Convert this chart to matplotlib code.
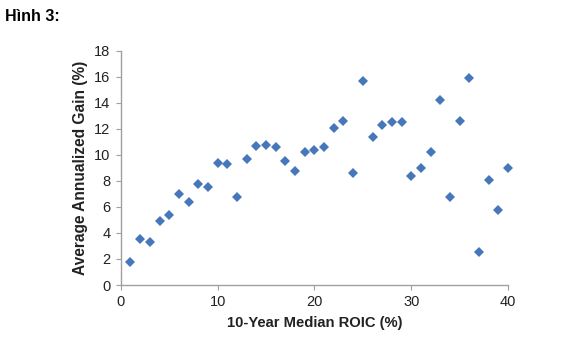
import matplotlib
matplotlib.use("Agg")
import matplotlib.pyplot as plt

plt.rcParams['font.family'] = ['Liberation Sans', 'DejaVu Sans']

roic = list(range(1, 41))
gain = [1.8, 3.5, 3.3, 4.9, 5.4, 7.0, 6.4, 7.8, 7.5, 9.4,
        9.3, 6.8, 9.7, 10.7, 10.8, 10.6, 9.5, 8.8, 10.2, 10.4,
        10.6, 12.1, 12.6, 8.6, 15.7, 11.4, 12.3, 12.5, 12.5, 8.4,
        9.0, 10.2, 14.2, 6.8, 12.6, 15.9, 2.5, 8.1, 5.8, 9.0]
xticks = [0, 10, 20, 30, 40]
yticks = list(range(0, 19, 2))

fig = plt.figure(figsize=(5.78, 3.51), dpi=100)
ax = fig.add_axes([0.209, 0.188, 0.670, 0.667])
ax.plot(roic, gain, linestyle='none', marker='D', ms=5.3,
        color='#4677BB', markeredgewidth=0, clip_on=False)
ax.set_xlim(0, 40)
ax.set_ylim(0, 18)
ax.set_xticks(xticks)
ax.set_yticks(yticks)
for s in ['top', 'right']:
    ax.spines[s].set_visible(False)
for s in ['left', 'bottom']:
    ax.spines[s].set_color('#a0a0a0')
    ax.spines[s].set_linewidth(1.0)
ax.tick_params(direction='out', length=3.5, color='#a0a0a0', labelsize=10.5,
               labelcolor='#222222', pad=4)
ax.set_xlabel('10-Year Median ROIC (%)', fontsize=10.6, fontweight='bold',
              color='#222222', labelpad=5)
ax.set_ylabel('Average Annualized Gain (%)', fontsize=11.2, fontweight='bold',
              color='#222222', labelpad=4)
fig.text(0.009, 0.954, 'Hình 3:', fontsize=11.5, fontweight='bold',
         ha='left', va='center', color='black')
fig.savefig('out.png', dpi=100)
